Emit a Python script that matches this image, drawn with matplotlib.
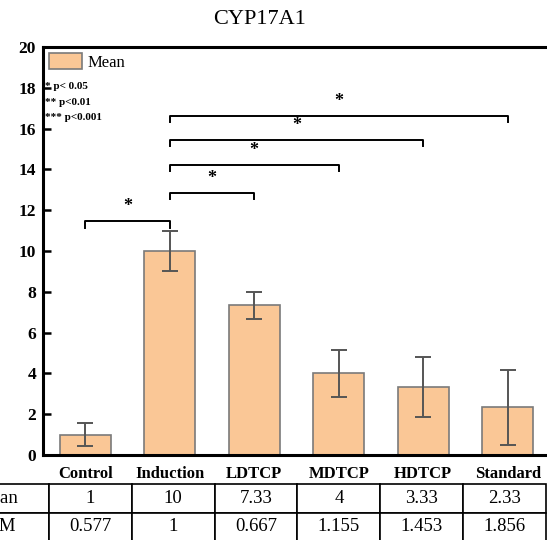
import matplotlib.pyplot as plt
import numpy as np

plt.rcParams['font.family'] = ['Liberation Serif', 'DejaVu Serif']

groups = ['Control', 'Induction', 'LDTCP', 'MDTCP', 'HDTCP', 'Standard']
means = [1, 10, 7.33, 4, 3.33, 2.33]
sems = [0.577, 1, 0.667, 1.155, 1.453, 1.856]
mean_txt = ['1', '10', '7.33', '4', '3.33', '2.33']
sem_txt = ['0.577', '1', '0.667', '1.155', '1.453', '1.856']

# comparaciones significativas: (grupo a, grupo b, altura)
comparaciones = [(0, 1, 11.45), (1, 2, 12.85), (1, 3, 14.2), (1, 4, 15.45), (1, 5, 16.6)]
leyenda_p = ['* p< 0.05', '** p<0.01', '*** p<0.001']

fig = plt.figure(figsize=(5.47, 5.40), dpi=100)
ax = fig.add_axes([43/547, 85/540, 507/547, 408/540])

x = np.arange(len(groups))
ax.bar(x, means, width=0.6, color='#FAC796', edgecolor='#7a7a7a', linewidth=1.2,
       label='Mean', zorder=2)
ax.errorbar(x, means, yerr=sems, fmt='none', ecolor='#555555', elinewidth=1.4,
            capsize=5.5, capthick=1.4, zorder=3)

# brackets de significancia
for a, b, h in comparaciones:
    ax.plot([a, a, b, b], [h - 0.3, h, h, h - 0.3], color='black', lw=1.4, zorder=3)
    ax.text((a + b) / 2, h + 0.3, '*', ha='center', va='bottom', fontsize=13,
            fontweight='bold')

ax.set_xlim(-0.5, 5.5)
ax.set_ylim(0, 20)
ax.set_yticks(np.arange(0, 21, 2))
ax.tick_params(axis='y', direction='in', length=6, width=1.8, pad=5, labelsize=12.5)
for lab in ax.get_yticklabels():
    lab.set_fontweight('bold')
ax.set_xticks(x)
ax.set_xticklabels(groups, fontweight='bold', fontsize=12)
ax.tick_params(axis='x', length=0, pad=8)
for s in ['left', 'bottom', 'top']:
    ax.spines[s].set_linewidth(2.2)
ax.spines['right'].set_visible(False)

ax.legend(loc='upper left', bbox_to_anchor=(0.0, 1.0), frameon=False, fontsize=12,
          handlelength=2.0, handleheight=1.15, borderpad=0.25, borderaxespad=0.1,
          handletextpad=0.3)
for i, t in enumerate(leyenda_p):
    ax.text(0.004, 0.902 - i * 0.037, t, transform=ax.transAxes, fontsize=8,
            fontweight='bold', va='center', ha='left')

# tabla con Mean / SEM
tabla = ax.table(cellText=[['Mean'] + mean_txt, ['SEM'] + sem_txt],
                 colWidths=[104] + [83] * 6, cellLoc='center',
                 bbox=[(-55 - 43) / 507, -86 / 408, 601 / 507, 57 / 408])
tabla.auto_set_font_size(False)
tabla.set_fontsize(13.5)
for (r, c), cell in tabla.get_celld().items():
    cell.set_linewidth(1.2)

fig.text(260/547, 1 - 20/540, 'CYP17A1', ha='center', va='center', fontsize=16)

fig.savefig('out.png', dpi=100)
